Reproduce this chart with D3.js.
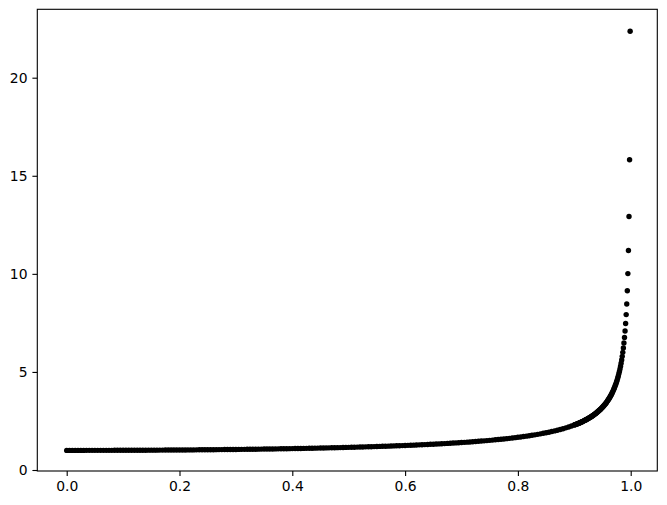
<!DOCTYPE html>
<html>
<head>
<meta charset="utf-8">
<script src="https://cdn.jsdelivr.net/npm/d3@7"></script>
<style>
  body { margin: 0; background: #fff; }
  svg { display: block; }
  .tick text { font-family: "DejaVu Sans", sans-serif; font-size: 13.9px; fill: #000; }
  .tick line { stroke: #000; stroke-width: 1.1; }
</style>
</head>
<body>
<div id="chart"></div>
<script>
// x values
const xValues = [
  0.000, 0.005, 0.010, 0.015, 0.020, 0.025, 0.030, 0.035, 0.040, 0.045,
  0.050, 0.055, 0.060, 0.065, 0.070, 0.075, 0.080, 0.085, 0.090, 0.095,
  0.100, 0.105, 0.110, 0.115, 0.120, 0.125, 0.130, 0.135, 0.140, 0.145,
  0.150, 0.155, 0.160, 0.165, 0.170, 0.175, 0.180, 0.185, 0.190, 0.195,
  0.200, 0.205, 0.210, 0.215, 0.220, 0.225, 0.230, 0.235, 0.240, 0.245,
  0.250, 0.255, 0.260, 0.265, 0.270, 0.275, 0.280, 0.285, 0.290, 0.295,
  0.300, 0.305, 0.310, 0.315, 0.320, 0.325, 0.330, 0.335, 0.340, 0.345,
  0.350, 0.355, 0.360, 0.365, 0.370, 0.375, 0.380, 0.385, 0.390, 0.395,
  0.400, 0.405, 0.410, 0.415, 0.420, 0.425, 0.430, 0.435, 0.440, 0.445,
  0.450, 0.455, 0.460, 0.465, 0.470, 0.475, 0.480, 0.485, 0.490, 0.495,
  0.500, 0.505, 0.510, 0.515, 0.520, 0.525, 0.530, 0.535, 0.540, 0.545,
  0.550, 0.555, 0.560, 0.565, 0.570, 0.575, 0.580, 0.585, 0.590, 0.595,
  0.600, 0.605, 0.610, 0.615, 0.620, 0.625, 0.630, 0.635, 0.640, 0.645,
  0.650, 0.655, 0.660, 0.665, 0.670, 0.675, 0.680, 0.685, 0.690, 0.695,
  0.700, 0.705, 0.710, 0.715, 0.720, 0.725, 0.730, 0.735, 0.740, 0.745,
  0.750, 0.755, 0.760, 0.765, 0.770, 0.775, 0.780, 0.785, 0.790, 0.795,
  0.800, 0.805, 0.810, 0.815, 0.820, 0.825, 0.830, 0.835, 0.840, 0.845,
  0.850, 0.855, 0.860, 0.865, 0.870, 0.875, 0.880, 0.885, 0.890, 0.895,
  0.900, 0.901, 0.902, 0.903, 0.904, 0.905, 0.906, 0.907, 0.908, 0.909,
  0.910, 0.911, 0.912, 0.913, 0.914, 0.915, 0.916, 0.917, 0.918, 0.919,
  0.920, 0.921, 0.922, 0.923, 0.924, 0.925, 0.926, 0.927, 0.928, 0.929,
  0.930, 0.931, 0.932, 0.933, 0.934, 0.935, 0.936, 0.937, 0.938, 0.939,
  0.940, 0.941, 0.942, 0.943, 0.944, 0.945, 0.946, 0.947, 0.948, 0.949,
  0.950, 0.951, 0.952, 0.953, 0.954, 0.955, 0.956, 0.957, 0.958, 0.959,
  0.960, 0.961, 0.962, 0.963, 0.964, 0.965, 0.966, 0.967, 0.968, 0.969,
  0.970, 0.971, 0.972, 0.973, 0.974, 0.975, 0.976, 0.977, 0.978, 0.979,
  0.980, 0.981, 0.982, 0.983, 0.984, 0.985, 0.986, 0.987, 0.988, 0.989,
  0.990, 0.991, 0.992, 0.993, 0.994, 0.995, 0.996, 0.997, 0.998, 0.999
];

const yValues = [
  1.000, 1.000, 1.000, 1.000, 1.000, 1.000, 1.000, 1.001, 1.001, 1.001,
  1.001, 1.002, 1.002, 1.002, 1.002, 1.003, 1.003, 1.004, 1.004, 1.005,
  1.005, 1.006, 1.006, 1.007, 1.007, 1.008, 1.009, 1.009, 1.010, 1.011,
  1.011, 1.012, 1.013, 1.014, 1.015, 1.016, 1.017, 1.018, 1.019, 1.020,
  1.021, 1.022, 1.023, 1.024, 1.025, 1.026, 1.028, 1.029, 1.030, 1.031,
  1.033, 1.034, 1.036, 1.037, 1.039, 1.040, 1.042, 1.043, 1.045, 1.047,
  1.048, 1.050, 1.052, 1.054, 1.056, 1.057, 1.059, 1.061, 1.063, 1.065,
  1.068, 1.070, 1.072, 1.074, 1.076, 1.079, 1.081, 1.084, 1.086, 1.089,
  1.091, 1.094, 1.096, 1.099, 1.102, 1.105, 1.108, 1.111, 1.114, 1.117,
  1.120, 1.123, 1.126, 1.130, 1.133, 1.136, 1.140, 1.143, 1.147, 1.151,
  1.155, 1.159, 1.163, 1.167, 1.171, 1.175, 1.179, 1.184, 1.188, 1.193,
  1.197, 1.202, 1.207, 1.212, 1.217, 1.222, 1.228, 1.233, 1.239, 1.244,
  1.250, 1.256, 1.262, 1.268, 1.275, 1.281, 1.288, 1.294, 1.301, 1.309,
  1.316, 1.323, 1.331, 1.339, 1.347, 1.355, 1.364, 1.373, 1.382, 1.391,
  1.400, 1.410, 1.420, 1.430, 1.441, 1.452, 1.463, 1.475, 1.487, 1.499,
  1.512, 1.525, 1.539, 1.553, 1.567, 1.582, 1.598, 1.614, 1.631, 1.649,
  1.667, 1.686, 1.705, 1.726, 1.747, 1.770, 1.793, 1.817, 1.843, 1.870,
  1.898, 1.928, 1.960, 1.993, 2.028, 2.066, 2.105, 2.148, 2.193, 2.242,
  2.294, 2.305, 2.316, 2.328, 2.339, 2.351, 2.363, 2.375, 2.387, 2.399,
  2.412, 2.425, 2.438, 2.451, 2.465, 2.479, 2.493, 2.507, 2.522, 2.536,
  2.552, 2.567, 2.583, 2.599, 2.615, 2.632, 2.649, 2.666, 2.684, 2.702,
  2.721, 2.740, 2.759, 2.779, 2.799, 2.820, 2.841, 2.863, 2.885, 2.908,
  2.931, 2.955, 2.980, 3.005, 3.031, 3.057, 3.085, 3.113, 3.142, 3.172,
  3.203, 3.234, 3.267, 3.301, 3.335, 3.371, 3.409, 3.447, 3.487, 3.529,
  3.571, 3.616, 3.662, 3.711, 3.761, 3.813, 3.868, 3.925, 3.985, 4.048,
  4.113, 4.183, 4.256, 4.333, 4.414, 4.500, 4.592, 4.690, 4.794, 4.905,
  5.025, 5.154, 5.294, 5.446, 5.613, 5.795, 5.997, 6.222, 6.474, 6.761,
  7.089, 7.470, 7.922, 8.466, 9.142, 10.013, 11.192, 12.920, 15.819, 22.366
];

const xTicks = [0.0, 0.2, 0.4, 0.6, 0.8, 1.0];
const yTicks = [0, 5, 10, 15, 20];

const w = 667;
const h = 505;
// axes frame
const frameLeft = 37.3, frameRight = 657.3, frameTop = 9.3, frameBottom = 471;

const x = d3.scaleLinear().domain([0, 1]).range([66.7, 630.7]);
const y = d3.scaleLinear().domain([0, 20]).range([470, 77.7]);

const svg = d3
  .select("#chart")
  .append("svg")
  .attr("width", w)
  .attr("height", h);

svg.append("rect")
  .attr("width", w)
  .attr("height", h)
  .attr("fill", "#fff");

const points = xValues.map((d, i) => [d, yValues[i]]);

svg.append("g")
  .selectAll("circle")
  .data(points)
  .enter()
  .append("circle")
  .attr("cx", d => x(d[0]))
  .attr("cy", d => y(d[1]))
  .attr("r", 2.7)
  .attr("fill", "#000");

const xAxis = svg.append("g")
  .attr("transform", `translate(0, ${frameBottom})`)
  .call(d3.axisBottom(x).tickValues(xTicks).tickFormat(d3.format(".1f"))
    .tickSize(4.9).tickPadding(4.9).tickSizeOuter(0));
xAxis.select(".domain").remove();

const yAxis = svg.append("g")
  .attr("transform", `translate(${frameLeft}, 0)`)
  .call(d3.axisLeft(y).tickValues(yTicks).tickFormat(d3.format("d"))
    .tickSize(4.9).tickPadding(4.9).tickSizeOuter(0));
yAxis.select(".domain").remove();

svg.selectAll(".tick text").attr("font-family", null).attr("font-size", null);

// spines
svg.append("rect")
  .attr("x", frameLeft)
  .attr("y", frameTop)
  .attr("width", frameRight - frameLeft)
  .attr("height", frameBottom - frameTop)
  .attr("fill", "none")
  .attr("stroke", "#000")
  .attr("stroke-width", 1.1);
</script>
</body>
</html>
